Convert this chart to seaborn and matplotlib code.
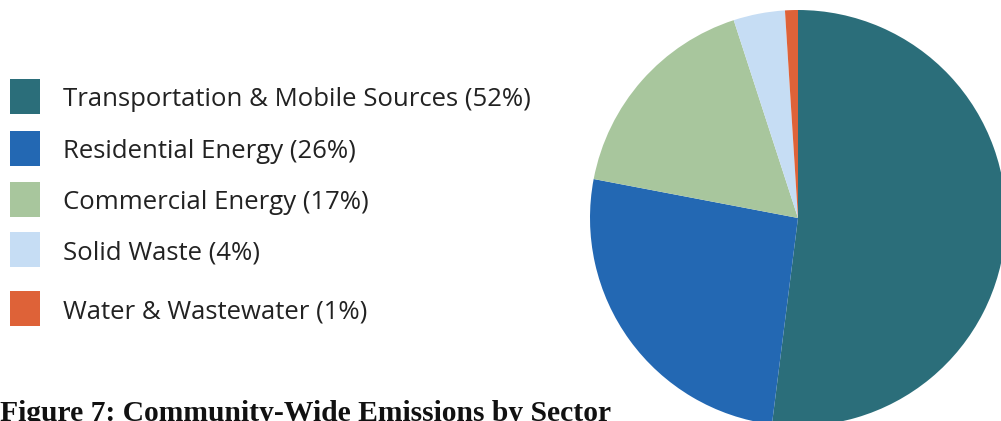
import numpy as np
import pandas as pd
import seaborn as sns
import matplotlib.pyplot as plt
from matplotlib.patches import Rectangle

# emissions share by sector (%)
sectors = ["Transportation & Mobile Sources", "Residential Energy", "Commercial Energy",
           "Solid Waste", "Water & Wastewater"]
shares = [52, 26, 17, 4, 1]
colors = ["#2b6e7a", "#2368b3", "#a8c69d", "#c6ddf4", "#de6238"]

caption = "Figure 7: Community-Wide Emissions by Sector"

df = pd.DataFrame({"sector": sectors, "share": shares, "color": colors})

sns.set_theme(style="white")
plt.rcParams['font.family'] = ['Open Sans', 'DejaVu Sans']

W, H = 1001, 421
fig = plt.figure(figsize=(W / 100, H / 100), dpi=100)
ax = fig.add_axes([0, 0, 1, 1])
ax.set_xlim(0, W)
ax.set_ylim(H, 0)
ax.axis("off")

# pie (drawn in a second axes so the y direction is normal)
pax = fig.add_axes([0, 0, 1, 1])
pax.set_xlim(0, W)
pax.set_ylim(0, H)
pax.set_aspect("equal")
pax.axis("off")
pax.pie(df["share"], colors=df["color"], startangle=90, counterclock=False,
        center=(798, H - 218), radius=208, wedgeprops=dict(linewidth=0))
pax.set_xlim(0, W)
pax.set_ylim(0, H)

# legend drawn by hand (uneven row spacing in the original)
row_mid = [96.5, 148, 199, 249, 308.5]
for (s, v, c), y in zip(df[["sector", "share", "color"]].values, row_mid):
    ax.add_patch(Rectangle((10, y - 17.5), 30, 35, facecolor=c, edgecolor="none"))
    ax.text(63, y + 10, f"{s} ({v}%)", fontsize=18.5, color="#222222",
            va="baseline", ha="left")

ax.text(0, 421, caption, fontsize=21.3, fontweight="bold", color="#111111",
        family="Liberation Serif", va="baseline", ha="left")

fig.savefig("out.png", dpi=100)
